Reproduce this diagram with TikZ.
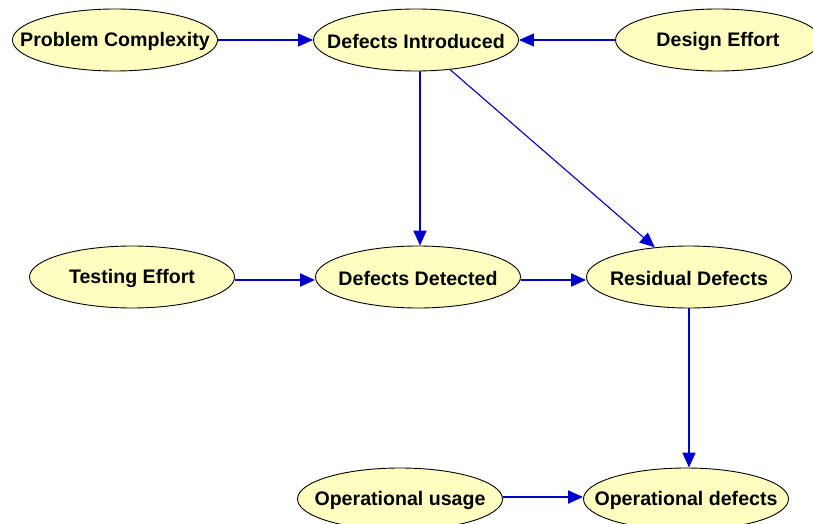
\documentclass[tikz,border=0pt]{standalone}
\usepackage{fontspec}
\setmainfont{Liberation Sans}
\usetikzlibrary{arrows.meta,shapes.geometric}
\definecolor{nodefill}{RGB}{255,255,192}
\definecolor{arrblue}{RGB}{0,0,204}
\begin{document}
\begin{tikzpicture}[x=1pt,y=-1pt,
  ev/.style={ellipse,draw=black,line width=0.9pt,fill=nodefill,minimum width=205pt,minimum height=62pt,inner sep=0pt,
    label={[font=\fontsize{19.6}{21}\selectfont\bfseries,inner sep=0pt,yshift=-1.5pt]center:#1}},
  arr/.style={draw=arrblue,line width=1.1pt,-{Triangle[length=15pt,width=13pt]},fill=arrblue},
  arrthick/.style={arr,line width=1.9pt}]
\useasboundingbox[fill=white] (0,0) rectangle (813,524);
\node[ev={Problem Complexity}] (PC) at (115,40) {};
\node[ev={Defects Introduced}] (DI) at (416,40) {};
\node[ev={Design Effort}] (DE) at (718,40) {};
\node[ev={Testing Effort}] (TE) at (132,277) {};
\node[ev={Defects Detected}] (DD) at (418,277) {};
\node[ev={Residual Defects}] (RD) at (689,277) {};
\node[ev={Operational usage}] (OU) at (400,499) {};
\node[ev={Operational defects}] (OD) at (686,499) {};
\draw[arr] (PC) -- (DI);
\draw[arr] (DE) -- (DI);
\draw[arrthick] ([xshift=4pt]DI.south) -- ([xshift=2pt]DD.north);
\draw[arr] (DI) -- (RD);
\draw[arrthick] ([yshift=-3pt]TE.east) -- ([yshift=-3pt]DD.west);
\draw[arrthick] ([yshift=-3pt]DD.east) -- ([yshift=-3pt]RD.west);
\draw[arrthick] (RD.south) -- (RD.south |- OD.north);
\draw[arrthick] ([yshift=2pt]OU.east) -- ([yshift=2pt]OD.west);
\end{tikzpicture}
\end{document}
